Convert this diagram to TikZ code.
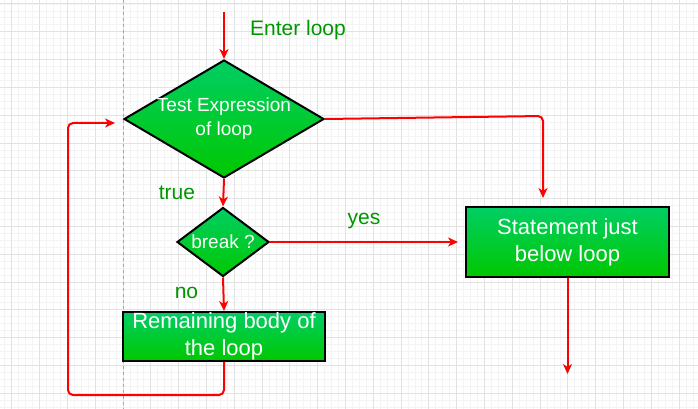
\documentclass[tikz,border=0pt]{standalone}
\usepackage{fontspec}
\setmainfont{Liberation Sans}
\usetikzlibrary{shapes.geometric,arrows.meta}
\definecolor{boxtop}{RGB}{0,206,100}
\definecolor{boxbot}{RGB}{0,200,0}
\definecolor{labgreen}{RGB}{0,150,0}
\definecolor{gridmaj}{RGB}{226,226,226}
\definecolor{gridmin}{RGB}{244,244,244}
\tikzset{
  decision/.style={diamond, draw=black, line width=2pt, top color=boxtop,
    bottom color=boxbot, text=white, align=center, inner sep=0pt,
    font=\fontsize{19}{24}\selectfont},
  block/.style={rectangle, draw=black, line width=2pt, top color=boxtop,
    bottom color=boxbot, text=white, align=center, inner sep=0pt,
    font=\fontsize{22}{27}\selectfont},
  flow/.style={draw=red, line width=2pt,
    -{Stealth[length=10pt,width=9pt,inset=3pt]}},
  lab/.style={text=labgreen, anchor=base, inner sep=0pt,
    font=\fontsize{21}{25}\selectfont}
}
\begin{document}
\begin{tikzpicture}[x=1pt,y=-1pt]
      \useasboundingbox[fill=white] (0,0) rectangle (698,409);
      % grid
      \foreach \i in {0,...,100}
        \draw[gridmin, line width=0.6pt] ({4.75+6.95*\i},0) -- ({4.75+6.95*\i},409);
      \foreach \i in {0,...,58}
        \draw[gridmin, line width=0.6pt] (0,{3.9+6.95*\i}) -- (698,{3.9+6.95*\i});
      \foreach \i in {0,...,25}
        \draw[gridmaj, line width=0.8pt] ({11.7+27.8*\i},0) -- ({11.7+27.8*\i},409);
      \foreach \i in {0,...,14}
        \draw[gridmaj, line width=0.8pt] (0,{3.9+27.8*\i}) -- (698,{3.9+27.8*\i});
      \draw[gray!70, line width=0.7pt, dash pattern=on 3pt off 3pt] (123,0) -- (123,409);
      % shapes
      \node[decision, aspect=1.7, inner xsep=-12pt, minimum width=200pt, minimum height=118pt] (test) at (224,119) {Test Expression\\of loop};
      \node[decision, aspect=1.33, inner xsep=-4pt, minimum width=92pt, minimum height=69pt] (brk) at (223,242) {break ?};
      \node[block, minimum width=202pt, minimum height=49pt] (body) at (224,336.5) {Remaining body of\\the loop};
      \node[block, minimum width=203pt, minimum height=70pt] (stmt) at (567.5,242) {Statement just\\below loop};
      % labels
      \node[lab] (enter) at (298,36) {Enter loop};
      \node[lab] (true) at (177,199) {true};
      \node[lab] (no) at (186.5,298) {no};
      \node[lab] (yes) at (364,224) {yes};
      \coordinate (in) at (224,12);
      \coordinate (turn) at (543,116);
      \coordinate (back) at (68,395);
      \coordinate (out) at (567.5,374);
      % connectors
      \draw[flow] (in) -- (test.north);
      \draw[flow] (test.south) -- (brk.north);
      \draw[flow] (brk.south) -- (body.north);
      \draw[flow, shorten >=7pt] (brk.east) -- (stmt.west);
      \draw[flow, rounded corners=5pt, shorten >=8pt] (test.east) -- (turn) -- (turn |- stmt.north);
      \draw[flow, rounded corners=5pt, shorten >=8pt] (body.south) |- (back) |- ([yshift=-4pt]test.west);
      \draw[flow] (stmt.south) -- (out);
    \end{tikzpicture}
\end{document}
